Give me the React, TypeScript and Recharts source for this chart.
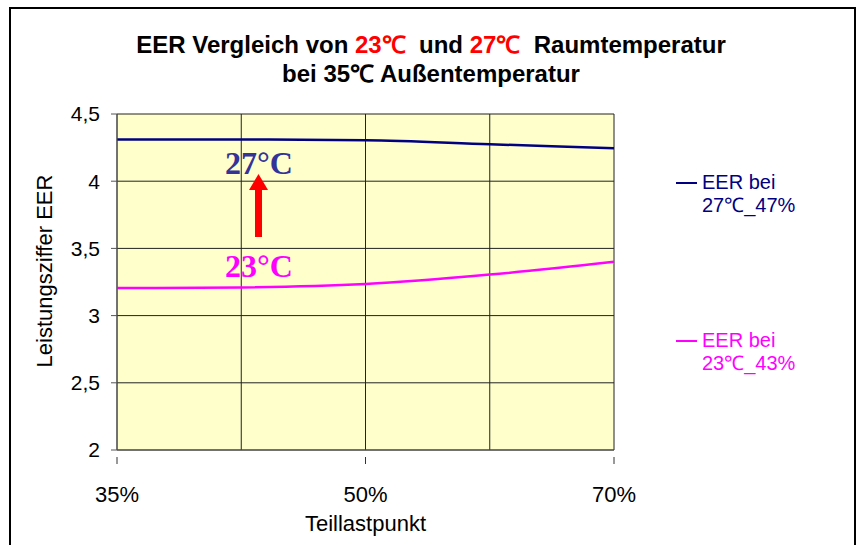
import React from 'react';
import { LineChart, Line, XAxis, YAxis, CartesianGrid } from 'recharts';

const categories = ['35%', '40%', '50%', '60%', '70%'];
const eer27 = [4.31, 4.31, 4.305, 4.275, 4.245];
const eer23 = [3.205, 3.21, 3.235, 3.305, 3.4];
const yTicks = [2, 2.5, 3, 3.5, 4, 4.5];
const seriesNames = ['EER bei 27℃_47%', 'EER bei 23℃_43%'];
const seriesColors = ['#000080', '#FF00FF'];

const data = categories.map((c, i) => ({ name: c, eer27: eer27[i], eer23: eer23[i] }));

const FONT = '"Liberation Sans", Arial, sans-serif';

// Excel only labels every second category, tick marks too
const XTick = (props: any) => {
  const { x, y, payload, index } = props;
  if (index % 2 !== 0) return <g />;
  return (
    <g>
      <line x1={x} x2={x} y1={y - 1} y2={y + 6} stroke="#333" />
      <text x={x} y={y + 44} textAnchor="middle" fontSize={22} fontFamily={FONT} fill="#000">
        {payload.value}
      </text>
    </g>
  );
};

export default function App() {
  return (
    <div style={{ position: 'absolute', left: 0, top: 0, width: 865, height: 545, background: '#fff', overflow: 'hidden', fontFamily: FONT }}>
      <div style={{ position: 'absolute', left: 9, top: 7, width: 843, height: 600, border: '2px solid #000' }} />

      {/* title */}
      <div style={{ position: 'absolute', left: 0, top: 30, width: 862, textAlign: 'center', fontWeight: 'bold', fontSize: 24, lineHeight: '29px', color: '#000' }}>
        <div>
          EER Vergleich von <span style={{ color: '#FF0000' }}>23℃</span>&nbsp; und <span style={{ color: '#FF0000' }}>27℃</span>&nbsp; Raumtemperatur
        </div>
        <div>bei 35℃ Außentemperatur</div>
      </div>

      <div style={{ position: 'absolute', left: 0, top: 0 }}>
        <LineChart width={865} height={545} data={data} margin={{ top: 114, right: 251, bottom: 6, left: 0 }}>
          <CartesianGrid fill="#FFFFCC" stroke="#222" strokeWidth={1} />
          <XAxis
            dataKey="name"
            interval={0}
            height={89}
            tickLine={false}
            stroke="#555"
            tick={<XTick />}
            label={{ value: 'Teillastpunkt', position: 'insideBottom', offset: 8, fill: '#000', fontSize: 22, fontFamily: FONT }}
          />
          <YAxis
            domain={[2, 4.5]}
            ticks={yTicks}
            width={117}
            tickSize={6}
            tickMargin={11}
            stroke="#555"
            tickFormatter={(v: number) => String(v).replace('.', ',')}
            tick={{ fill: '#000', fontSize: 21, fontFamily: FONT }}
          />
          <Line type="monotone" dataKey="eer27" name={seriesNames[0]} stroke={seriesColors[0]} strokeWidth={2.5} dot={false} isAnimationActive={false} />
          <Line type="monotone" dataKey="eer23" name={seriesNames[1]} stroke={seriesColors[1]} strokeWidth={2.5} dot={false} isAnimationActive={false} />
        </LineChart>
      </div>

      {/* y axis title, annotations and arrow */}
      <svg style={{ position: 'absolute', left: 0, top: 0 }} width={865} height={545}>
        <text transform="translate(52,271) rotate(-90)" textAnchor="middle" fontSize={22} fontFamily={FONT} fill="#000">
          Leistungsziffer EER
        </text>
        <rect x={255} y={189} width={7} height={48} fill="#FF0000" />
        <polygon points="249,190 268,190 258.5,174" fill="#FF0000" />
      </svg>
      <div style={{ position: 'absolute', left: 199, top: 143, width: 120, textAlign: 'center', fontFamily: '"Liberation Serif", "Times New Roman", serif', fontWeight: 'bold', fontSize: 32, color: '#333399', lineHeight: '40px' }}>27°C</div>
      <div style={{ position: 'absolute', left: 199, top: 246, width: 120, textAlign: 'center', fontFamily: '"Liberation Serif", "Times New Roman", serif', fontWeight: 'bold', fontSize: 32, color: '#FF00FF', lineHeight: '40px' }}>23°C</div>

      {/* legend */}
      {seriesNames.map((n, i) => {
        const parts = n.split(' ');
        return (
          <div key={n} style={{ position: 'absolute', left: 676, top: i === 0 ? 171 : 329, color: seriesColors[i], fontSize: 20, lineHeight: '23px', display: 'flex' }}>
            <div style={{ width: 21, height: 2, background: seriesColors[i], marginTop: 11, marginRight: 5 }} />
            <div>
              <div>{parts[0]} {parts[1]}</div>
              <div>{parts[2]}</div>
            </div>
          </div>
        );
      })}
    </div>
  );
}
